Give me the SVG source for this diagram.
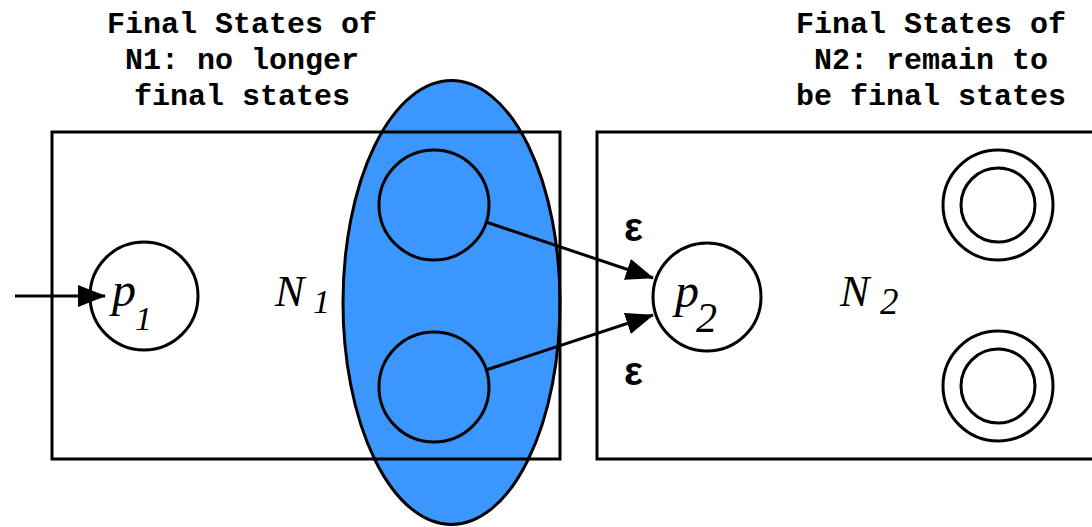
<svg xmlns="http://www.w3.org/2000/svg" width="1092" height="527" viewBox="0 0 1092 527">
<style>
.box{fill:none;stroke:#000;stroke-width:3}
.st{fill:#fff;stroke:#000;stroke-width:3}
.fin{fill:#3b96fe;stroke:#000;stroke-width:3}
.cap{font-family:"Liberation Mono","Courier New",monospace;font-weight:bold;font-size:30px;text-anchor:middle;fill:#000}
.it{font-family:"Liberation Serif","Times New Roman",serif;font-style:italic;fill:#000}
.eps{font-family:"Liberation Sans",Arial,sans-serif;font-weight:bold;font-size:40px;fill:#000}
.edge{stroke:#000;stroke-width:3;fill:none;marker-end:url(#ah)}
</style>
<defs>
<marker id="ah" markerUnits="userSpaceOnUse" markerWidth="28" markerHeight="22" refX="27" refY="11" orient="auto">
<path d="M0,0 L28,11 L0,22 Z" fill="#000"/>
</marker>
</defs>
<rect width="1092" height="527" fill="#fff"/>
<g id="label-n1">
<text class="cap" x="242" y="33">Final States of</text>
<text class="cap" x="242" y="69">N1: no longer</text>
<text class="cap" x="242" y="105">final states</text>
</g>
<g id="label-n2">
<text class="cap" x="931" y="33">Final States of</text>
<text class="cap" x="931" y="69">N2: remain to</text>
<text class="cap" x="931" y="105">be final states</text>
</g>
<g id="final-set">
<ellipse class="fin" cx="451.5" cy="302.5" rx="108.5" ry="222"/>
</g>
<g id="N1">
<rect class="box" x="52" y="132" width="508" height="327"/>
<text class="it" x="275" y="306" font-size="44">N</text>
<text class="it" x="313" y="313" font-size="34">1</text>
</g>
<g id="N2">
<rect class="box" x="597" y="132" width="510" height="327"/>
<text class="it" x="840" y="306" font-size="44">N</text>
<text class="it" x="880" y="314" font-size="37">2</text>
</g>
<g id="p1">
<circle class="st" cx="144" cy="296" r="54"/>
<text class="it" x="112" y="306" font-size="48">p</text>
<text class="it" x="135" y="330" font-size="34">1</text>
</g>
<g id="f1">
<circle class="fin" cx="434" cy="205" r="55"/>
</g>
<g id="f2">
<circle class="fin" cx="434" cy="387" r="55"/>
</g>
<g id="p2">
<circle class="st" cx="707" cy="297" r="54"/>
<text class="it" x="675" y="307" font-size="48">p</text>
<text class="it" x="696" y="332" font-size="42">2</text>
</g>
<g id="g1">
<circle class="st" cx="998" cy="205" r="55"/>
<circle class="st" cx="998" cy="205" r="37"/>
</g>
<g id="g2">
<circle class="st" cx="998" cy="386" r="55"/>
<circle class="st" cx="998" cy="386" r="37"/>
</g>
<g id="connectors">
<line class="edge" x1="15" y1="296" x2="105" y2="296"/>
<line class="edge" x1="486" y1="222" x2="653" y2="278"/>
<line class="edge" x1="486" y1="370" x2="653" y2="315"/>
<text class="eps" x="624" y="241">ε</text>
<text class="eps" x="624" y="385">ε</text>
</g>
</svg>
